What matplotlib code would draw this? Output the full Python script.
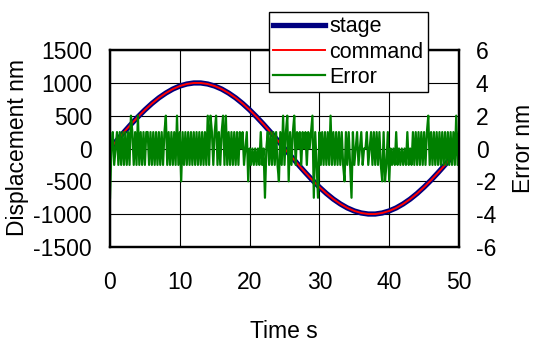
import numpy as np
import matplotlib
matplotlib.use("Agg")
import matplotlib.pyplot as plt

plt.rcParams['font.family'] = ['Liberation Sans', 'DejaVu Sans']
plt.rcParams['axes.unicode_minus'] = False

# -------------------------------
# DATA
# -------------------------------
time_s = list(range(0, 51))
stage_nm = [0, 125, 249, 368, 482, 588, 685, 771, 844, 905,
            951, 982, 998, 998, 982, 951, 905, 844, 771, 685,
            588, 482, 368, 249, 125, 0, -125, -249, -368, -482,
            -588, -685, -771, -844, -905, -951, -982, -998, -998, -982,
            -951, -905, -844, -771, -685, -588, -482, -368, -249, -125, 0]
command_nm = [0, 125, 249, 368, 482, 588, 685, 771, 844, 905,
              951, 982, 998, 998, 982, 951, 905, 844, 771, 685,
              588, 482, 368, 249, 125, 0, -125, -249, -368, -482,
              -588, -685, -771, -844, -905, -951, -982, -998, -998, -982,
              -951, -905, -844, -771, -685, -588, -482, -368, -249, -125, 0]

# error samples every 0.2 s
err_step = 0.2
error_nm = [
    # 0 - 9.8 s
    -3, 0, 1, -1, 0, 1, -1, 1, -1, 1, -1, 1, -1, 1, -1, 2, 1, -1, 1, -1,
    2, -1, 1, -1, 1, -1, 1, 1, -1, 1, -1, 1, -1, 1, -1, 1, -1, 1, -1, 1,
    2, -1, 1, -1, 1, -1, 1, -1, 2, -1,
    # 10 - 19.8 s
    1, -2, 1, -1, 1, -1, 1, -1, 1, -1, 1, -1, 1, -1, 1, -1, 1, -1, 1, -1,
    2, -1, 2, 1, -1, 1, 2, -1, 1, -1, 1, 2, -1, 2, -1, 1, -1, 1, -1, 1,
    -1, 1, -1, 1, 0, 1, -1, 0, 1, -2,
    # 20 - 29.8 s
    0, -1, 0, -1, 0, -1, 0, -1, 1, -1, 0, -3, 0, 1, -1, 1, -1, 1, -1, 1,
    -1, -2, 1, -1, 2, -1, 1, 2, -2, 1, -1, 1, 2, -1, 1, 0, 1, -1, 1, 0,
    1, -1, 1, 0, 1, 2, -3, 1, -1, -3,
    # 30 - 39.8 s
    1, -1, 1, -1, 1, -1, 1, -1, 2, -1, 1, -1, 1, -1, 1, -1, 1, -1, -2, 1,
    -1, 1, -1, -3, 1, -1, 0, 1, -1, 0, 1, -1, 0, 0, 1, -1, 0, 1, -1, 1,
    -1, 1, -1, 1, -1, -2, 1, -2, -1, 1,
    # 40 - 50 s
    -2, 0, -1, 0, -1, 1, -1, 0, -1, 0, -1, 0, -1, 1, -1, 0, -1, 1, -1, 1,
    -1, 1, -1, 1, -1, 1, -1, 1, 2, -1, 1, -1, 1, -1, 1, -1, 1, -1, 1, -1,
    1, -1, 1, -1, 1, -1, 1, -1, 2, -1, 1,
]
err_time = np.arange(len(error_nm)) * err_step

# -------------------------------
# PLOT
# -------------------------------
W, H = 534, 345
fig = plt.figure(figsize=(W / 100, H / 100), dpi=100)
ax = fig.add_axes([110 / W, 1 - 247 / H, 349 / W, 197 / H])
ax2 = ax.twinx()

fs = 16.5

l1, = ax.plot(time_s, stage_nm, color='#000080', lw=3.8, label='stage')
l2, = ax.plot(time_s, command_nm, color='#ff0000', lw=1.4, label='command')
l3, = ax2.plot(err_time, error_nm, color='#008000', lw=1.6, label='Error')

ax.set_xlim(0, 50)
ax.set_ylim(-1500, 1500)
ax2.set_ylim(-6, 6)
ax.set_xticks(range(0, 51, 10))
ax.set_yticks(range(-1500, 1501, 500))
ax2.set_yticks(range(-6, 7, 2))

ax.grid(True, color='black', lw=0.8)
ax.set_axisbelow(True)

for a in (ax, ax2):
    for sp in a.spines.values():
        sp.set_linewidth(1.6)
    a.tick_params(length=0, labelsize=fs)
ax.tick_params(axis='x', pad=17)
ax.tick_params(axis='y', pad=13)
ax2.tick_params(axis='y', pad=12)

# axis titles placed at their pixel spots
fig.text(284 / W, 1 - 332 / H, 'Time s', fontsize=fs, ha='center', va='center')
fig.text(18 / W, 1 - 148 / H, 'Displacement nm', fontsize=fs,
         rotation=90, ha='center', va='center')
fig.text(523 / W, 1 - 148 / H, 'Error nm', fontsize=fs,
         rotation=90, ha='center', va='center')

leg = ax2.legend(handles=[l1, l2, l3], loc='upper left',
                 bbox_to_anchor=(269 / W, 1 - 12 / H),
                 bbox_transform=fig.transFigure, borderaxespad=0,
                 fontsize=15.5, fancybox=False, framealpha=1,
                 edgecolor='black', borderpad=0.2, labelspacing=0.2,
                 handlelength=2.4, handletextpad=0.2)
leg.get_frame().set_linewidth(1.0)
leg.set_zorder(10)

fig.savefig('out.png', dpi=100)
